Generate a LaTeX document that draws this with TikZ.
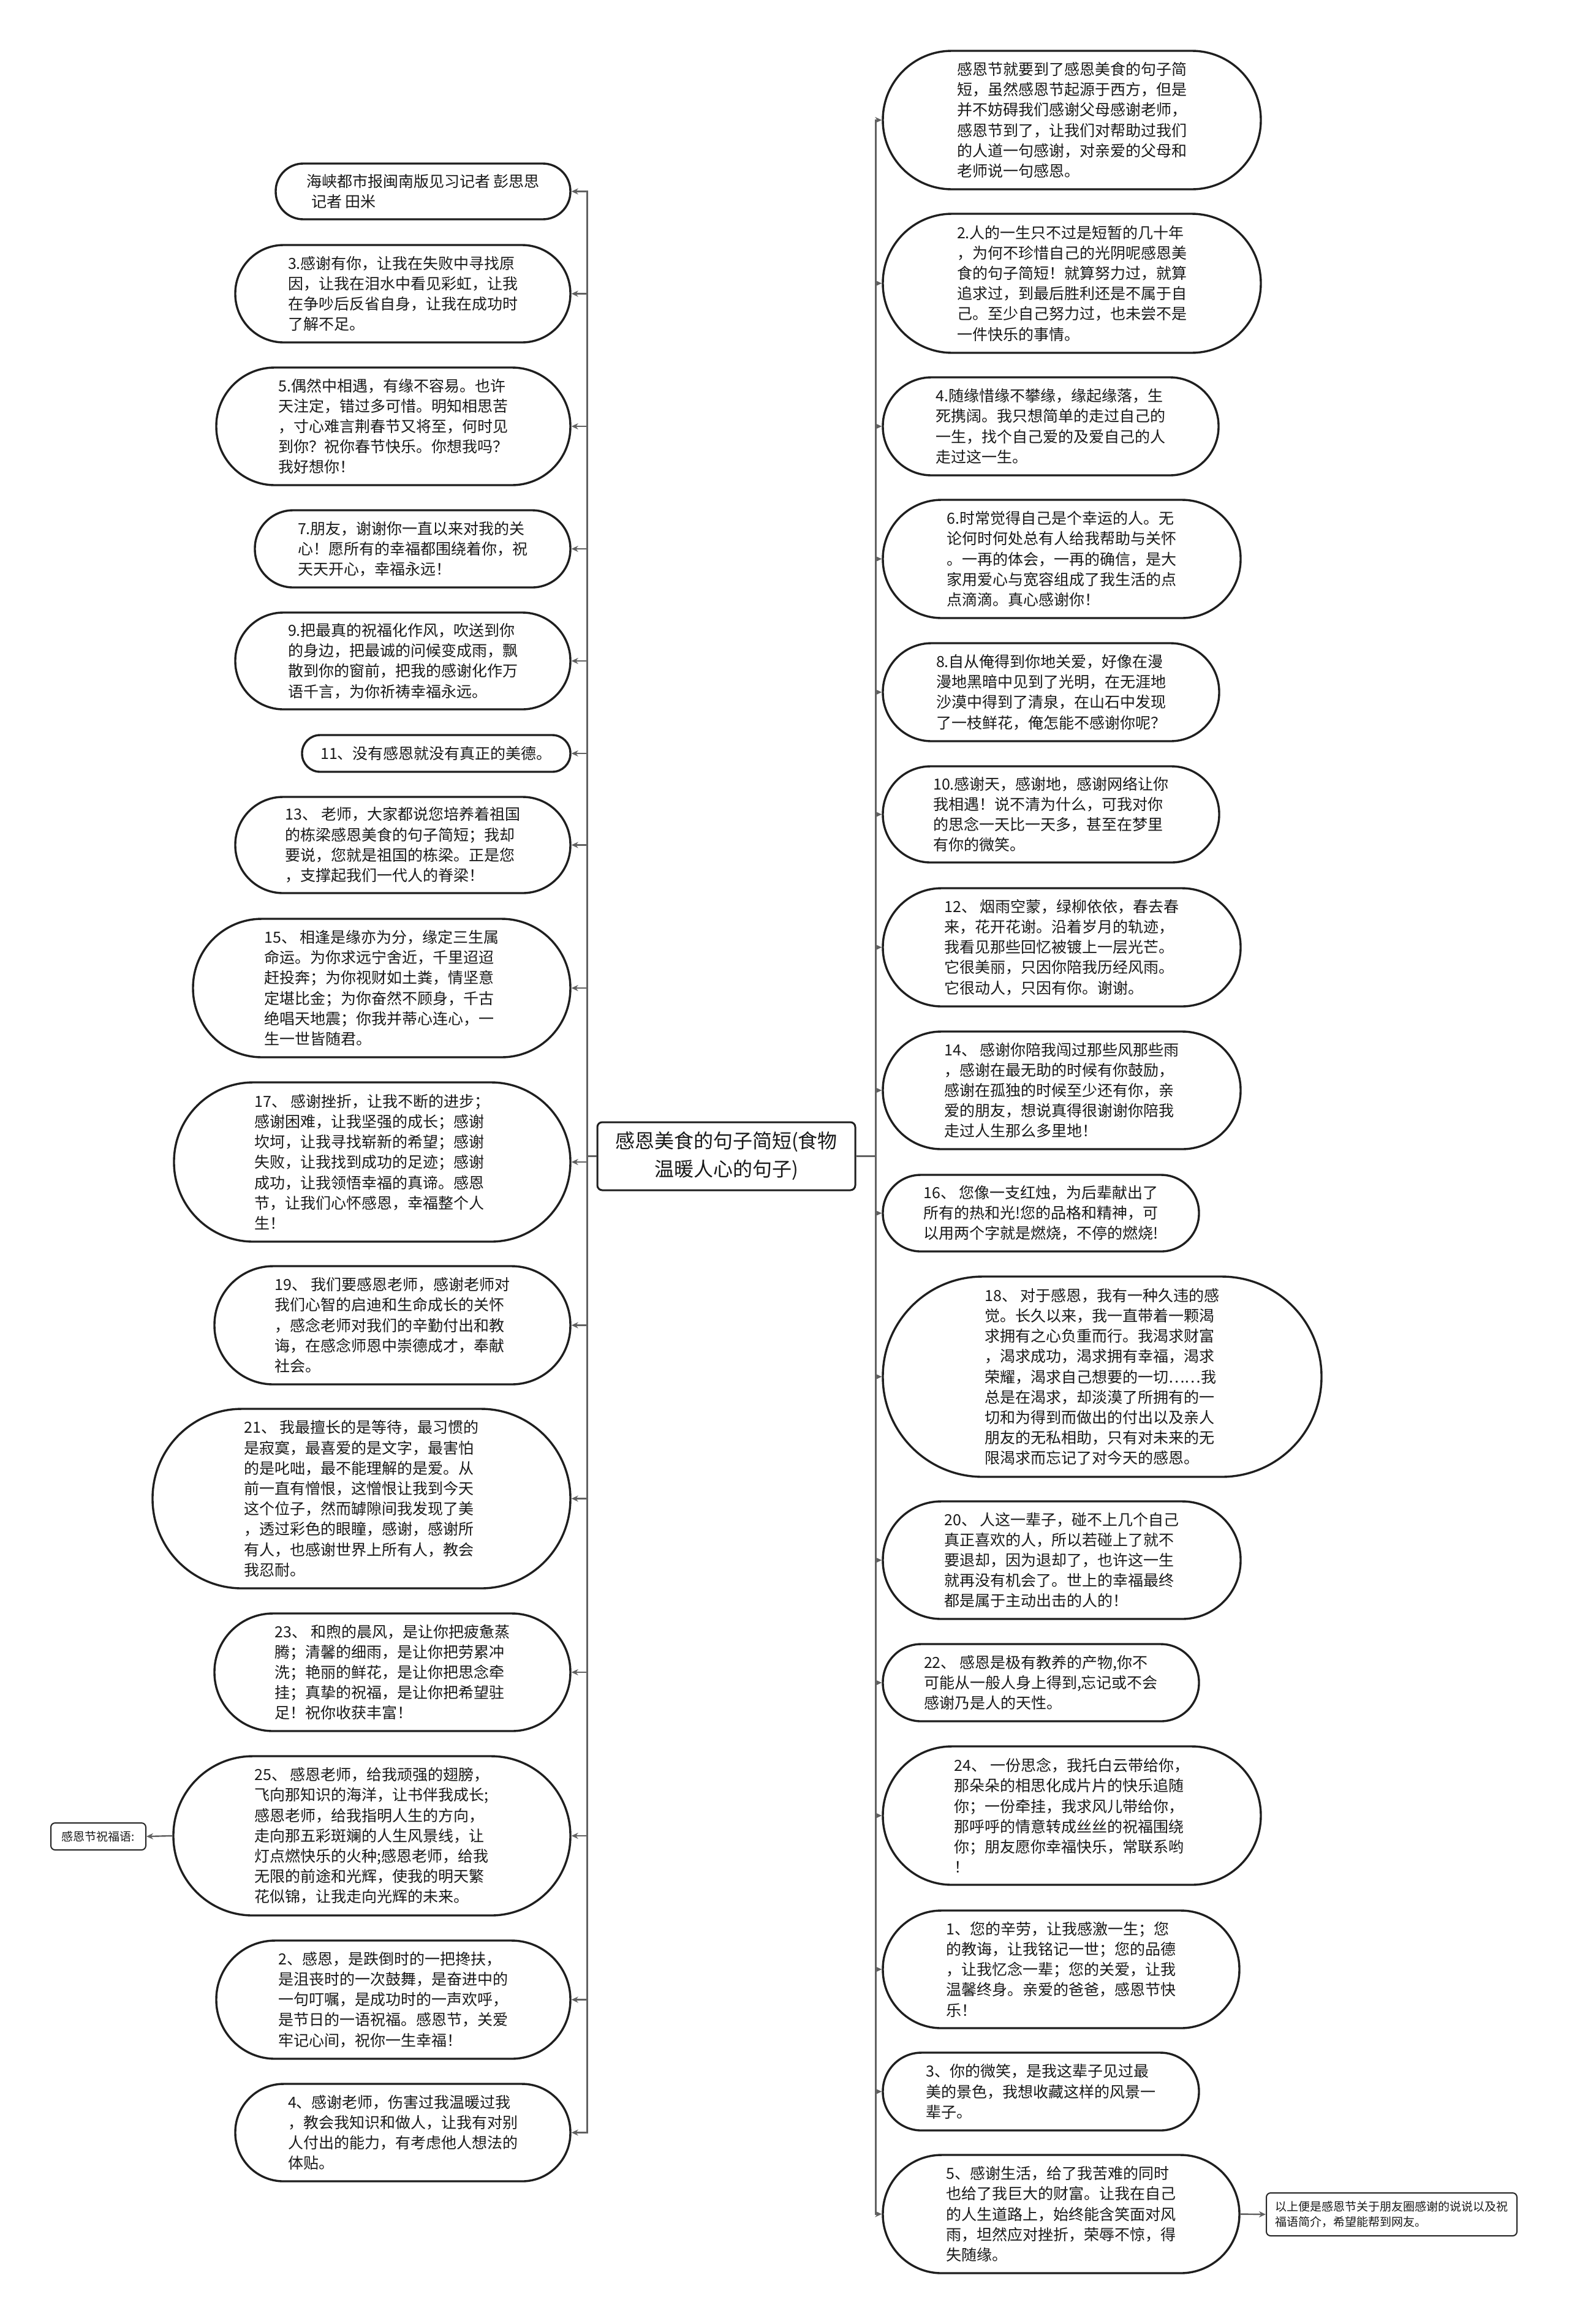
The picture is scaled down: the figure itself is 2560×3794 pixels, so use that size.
\documentclass[tikz,border=0pt]{standalone}
\usepackage{fontspec}
\setmainfont{Noto Sans CJK SC}
\usetikzlibrary{arrows.meta}
\begin{document}
\begin{tikzpicture}[x=1pt,y=-1pt,
  pill/.style n args={2}{draw=black!88, line width=3.4pt, fill=white,
    rounded corners=#2/2-0.5pt, minimum width=#1, minimum height=#2,
    align=left, inner sep=0pt, text=black!90, font=\fontsize{25}{33.2}\selectfont},
  smallbox/.style n args={2}{draw=black!85, line width=2pt, fill=white,
    rounded corners=7pt, minimum width=#1, minimum height=#2,
    align=left, inner sep=0pt, text=black!90, font=\fontsize{19}{25.7}\selectfont},
  topic/.style={draw=black!88, line width=3pt, fill=white, rounded corners=8pt,
    minimum width=421, minimum height=111, align=center, inner sep=0pt,
    text=black!90, font=\fontsize{32}{46}\selectfont},
  conn/.style={draw=black!62, line width=2.4pt, -{Stealth[length=11pt,width=10pt]}}
]
\useasboundingbox[fill=white] (0,0) rectangle (2560,3794);

\node[topic] (c) at (1185.5,1887.5) {感恩美食的句子简短(食物\\温暖人心的句子)};

% left column
\node[pill={481}{91}] (L1) at (690.5,312.5) {海峡都市报闽南版见习记者 彭思思\\\hspace{8pt}记者 田米};
\node[pill={547}{159}] (L2) at (657.5,479.5) {3.感谢有你，让我在失败中寻找原\\因，让我在泪水中看见彩虹，让我\\在争吵后反省自身，让我在成功时\\了解不足。};
\node[pill={578}{192}] (L3) at (642,696) {5.偶然中相遇，有缘不容易。也许\\天注定，错过多可惜。明知相思苦\\，寸心难言荆春节又将至，何时见\\到你？祝你春节快乐。你想我吗？\\我好想你！};
\node[pill={515}{126}] (L4) at (673.5,896) {7.朋友，谢谢你一直以来对我的关\\心！愿所有的幸福都围绕着你，祝\\天天开心，幸福永远！};
\node[pill={547}{158}] (L5) at (657.5,1079) {9.把最真的祝福化作风，吹送到你\\的身边，把最诚的问候变成雨，飘\\散到你的窗前，把我的感谢化作万\\语千言，为你祈祷幸福永远。};
\node[pill={438}{60}] (L6) at (712,1230) {11、没有感恩就没有真正的美德。};
\node[pill={547}{157}] (L7) at (657.5,1379.5) {13、 老师，大家都说您培养着祖国\\的栋梁感恩美食的句子简短；我却\\要说，您就是祖国的栋梁。正是您\\，支撑起我们一代人的脊梁！};
\node[pill={616}{226}] (L8) at (623,1613) {15、 相逢是缘亦为分，缘定三生属\\命运。为你求远宁舍近，千里迢迢\\赶投奔；为你视财如土粪，情坚意\\定堪比金；为你奋然不顾身，千古\\绝唱天地震；你我并蒂心连心，一\\生一世皆随君。};
\node[pill={647}{260}] (L9) at (607.5,1897) {17、 感谢挫折，让我不断的进步；\\感谢困难，让我坚强的成长；感谢\\坎坷，让我寻找崭新的希望；感谢\\失败，让我找到成功的足迹；感谢\\成功，让我领悟幸福的真谛。感恩\\节，让我们心怀感恩，幸福整个人\\生！};
\node[pill={581}{193}] (L10) at (640.5,2163.5) {19、 我们要感恩老师，感谢老师对\\我们心智的启迪和生命成长的关怀\\，感念老师对我们的辛勤付出和教\\诲，在感念师恩中崇德成才，奉献\\社会。};
\node[pill={682}{293}] (L11) at (590,2446.5) {21、 我最擅长的是等待，最习惯的\\是寂寞，最喜爱的是文字，最害怕\\的是叱咄，最不能理解的是爱。从\\前一直有憎恨，这憎恨让我到今天\\这个位子，然而罅隙间我发现了美\\，透过彩色的眼瞳，感谢，感谢所\\有人，也感谢世界上所有人，教会\\我忍耐。};
\node[pill={581}{192}] (L12) at (640.5,2730) {23、 和煦的晨风，是让你把疲惫蒸\\腾；清馨的细雨，是让你把劳累冲\\洗；艳丽的鲜花，是让你把思念牵\\挂；真挚的祝福，是让你把希望驻\\足！祝你收获丰富！};
\node[pill={648}{260}] (L13) at (607,2997) {25、 感恩老师，给我顽强的翅膀，\\飞向那知识的海洋，让书伴我成长;\\感恩老师，给我指明人生的方向，\\走向那五彩斑斓的人生风景线，让\\灯点燃快乐的火种;感恩老师，给我\\无限的前途和光辉，使我的明天繁\\花似锦，让我走向光辉的未来。};
\node[pill={578}{193}] (L14) at (642,3264.5) {2、感恩，是跌倒时的一把搀扶，\\是沮丧时的一次鼓舞，是奋进中的\\一句叮嘱，是成功时的一声欢呼，\\是节日的一语祝福。感恩节，关爱\\牢记心间，祝你一生幸福！};
\node[pill={547}{159}] (L15) at (657.5,3481.5) {4、感谢老师，伤害过我温暖过我\\，教会我知识和做人，让我有对别\\人付出的能力，有考虑他人想法的\\体贴。};
\node[smallbox={155}{44}] (FL) at (160.5,2998) {感恩节祝福语:};

% right column
\node[pill={617}{226}] (R1) at (1749.5,196) {感恩节就要到了感恩美食的句子简\\短，虽然感恩节起源于西方，但是\\并不妨碍我们感谢父母感谢老师，\\感恩节到了，让我们对帮助过我们\\的人道一句感谢，对亲爱的父母和\\老师说一句感恩。};
\node[pill={617}{227}] (R2) at (1749.5,462.5) {2.人的一生只不过是短暂的几十年\\，为何不珍惜自己的光阴呢感恩美\\食的句子简短！就算努力过，就算\\追求过，到最后胜利还是不属于自\\己。至少自己努力过，也未尝不是\\一件快乐的事情。};
\node[pill={548}{160}] (R3) at (1715,696) {4.随缘惜缘不攀缘，缘起缘落，生\\死携阔。我只想简单的走过自己的\\一生，找个自己爱的及爱自己的人\\走过这一生。};
\node[pill={584}{193}] (R4) at (1733,912.5) {6.时常觉得自己是个幸运的人。无\\论何时何处总有人给我帮助与关怀\\。一再的体会，一再的确信，是大\\家用爱心与宽容组成了我生活的点\\点滴滴。真心感谢你！};
\node[pill={549}{160}] (R5) at (1715.5,1130) {8.自从俺得到你地关爱，好像在漫\\漫地黑暗中见到了光明，在无涯地\\沙漠中得到了清泉，在山石中发现\\了一枝鲜花，俺怎能不感谢你呢？};
\node[pill={549}{157}] (R6) at (1715.5,1329.5) {10.感谢天，感谢地，感谢网络让你\\我相遇！说不清为什么，可我对你\\的思念一天比一天多，甚至在梦里\\有你的微笑。};
\node[pill={584}{193}] (R7) at (1733,1546.5) {12、 烟雨空蒙，绿柳依依，春去春\\来，花开花谢。沿着岁月的轨迹，\\我看见那些回忆被镀上一层光芒。\\它很美丽，只因你陪我历经风雨。\\它很动人，只因有你。谢谢。};
\node[pill={584}{192}] (R8) at (1733,1780) {14、 感谢你陪我闯过那些风那些雨\\，感谢在最无助的时候有你鼓励，\\感谢在孤独的时候至少还有你，亲\\爱的朋友，想说真得很谢谢你陪我\\走过人生那么多里地！};
\node[pill={516}{125}] (R9) at (1699,1980.5) {16、 您像一支红烛，为后辈献出了\\所有的热和光!您的品格和精神，可\\以用两个字就是燃烧，不停的燃烧!};
\node[pill={716}{327}] (R10) at (1799,2247.5) {18、 对于感恩，我有一种久违的感\\觉。长久以来，我一直带着一颗渴\\求拥有之心负重而行。我渴求财富\\，渴求成功，渴求拥有幸福，渴求\\荣耀，渴求自己想要的一切……我\\总是在渴求，却淡漠了所拥有的一\\切和为得到而做出的付出以及亲人\\朋友的无私相助，只有对未来的无\\限渴求而忘记了对今天的感恩。};
\node[pill={584}{192}] (R11) at (1733,2547) {20、 人这一辈子，碰不上几个自己\\真正喜欢的人，所以若碰上了就不\\要退却，因为退却了，也许这一生\\就再没有机会了。世上的幸福最终\\都是属于主动出击的人的！};
\node[pill={516}{126}] (R12) at (1699,2747) {22、 感恩是极有教养的产物,你不\\可能从一般人身上得到,忘记或不会\\感谢乃是人的天性。};
\node[pill={617}{226}] (R13) at (1749.5,2964) {24、 一份思念，我托白云带给你，\\那朵朵的相思化成片片的快乐追随\\你；一份牵挂，我求风儿带给你，\\那呼呼的情意转成丝丝的祝福围绕\\你；朋友愿你幸福快乐，常联系哟\\！};
\node[pill={582}{192}] (R14) at (1732,3215) {1、您的辛劳，让我感激一生；您\\的教诲，让我铭记一世；您的品德\\，让我忆念一辈；您的关爱，让我\\温馨终身。亲爱的爸爸，感恩节快\\乐！};
\node[pill={516}{127}] (R15) at (1699,3414.5) {3、你的微笑，是我这辈子见过最\\美的景色，我想收藏这样的风景一\\辈子。};
\node[pill={582}{193}] (R16) at (1732,3614.5) {5、感谢生活，给了我苦难的同时\\也给了我巨大的财富。让我在自己\\的人生道路上，始终能含笑面对风\\雨，坦然应对挫折，荣辱不惊，得\\失随缘。};
\node[smallbox={409}{70}] (FR) at (2271.5,3615) {以上便是感恩节关于朋友圈感谢的说说以及祝\\福语简介，希望能帮到网友。};

% connectors
\foreach \n in {L1,L2,L3,L4,L5,L6,L7,L8,L9,L10,L11,L12,L13,L14,L15}
  \draw[conn] (c.west) -- ++(-15,0) |- (\n.east);
\foreach \n in {R1,R2,R3,R4,R5,R6,R7,R8,R9,R10,R11,R12,R13,R14,R15,R16}
  \draw[conn] (c.east) -- ++(32,0) |- (\n.west);
\draw[conn] (L13.west) -- (FL.east);
\draw[conn] (R16.east) -- (FR.west);
\end{tikzpicture}
\end{document}
